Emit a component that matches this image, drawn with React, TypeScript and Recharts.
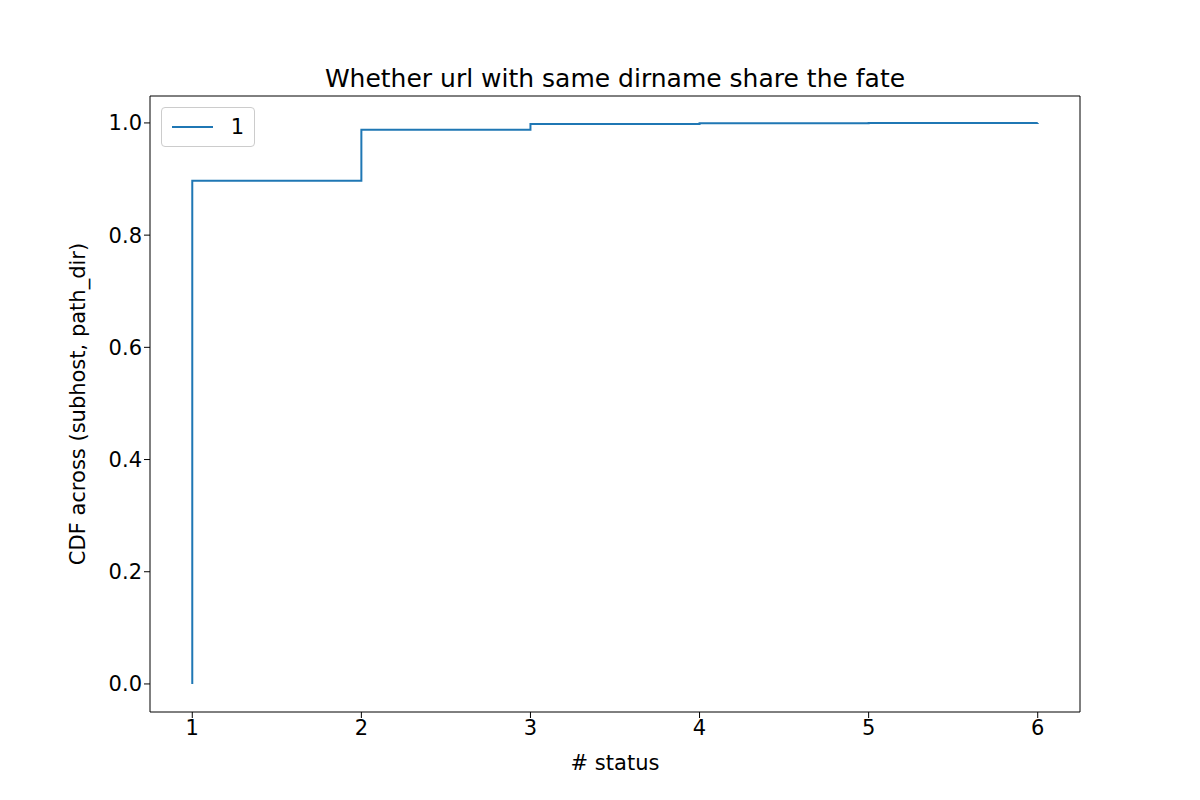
import { LineChart, Line, XAxis, YAxis, ReferenceLine } from "recharts";

const xs = [1, 1, 2, 3, 4, 5, 6];
const cdf = [0, 0.897, 0.988, 0.998, 0.9995, 0.9999, 1.0];
const xTicks = [1, 2, 3, 4, 5, 6];
const yTicks = [0, 0.2, 0.4, 0.6, 0.8, 1.0];
const seriesName = "1";

const data = xs.map((x, i) => ({ x, y: cdf[i] }));
const font = "DejaVu Sans, sans-serif";
const xDomain = [0.75, 6.25];
const yDomain = [-0.05, 1.048];

export default function App() {
  return (
    <div style={{ position: "absolute", left: 0, top: 0, width: 1200, height: 800, background: "white" }}>
      <div
        style={{
          position: "absolute",
          top: 64,
          width: 1230,
          textAlign: "center",
          fontFamily: font,
          fontSize: 25,
        }}
      >
        Whether url with same dirname share the fate
      </div>
      <div
        style={{
          position: "absolute",
          top: 107,
          left: 161,
          zIndex: 2,
          border: "1px solid #ccc",
          borderRadius: 4,
          background: "white",
          padding: "6px 10px",
          display: "flex",
          alignItems: "center",
          fontFamily: font,
          fontSize: 21,
          width: 94,
          height: 40,
          boxSizing: "border-box",
        }}
      >
        <svg width={46} height={10}>
          <line x1={0} y1={5} x2={44} y2={5} stroke="#1f77b4" strokeWidth={2} />
        </svg>
        <span style={{ marginLeft: 18 }}>{seriesName}</span>
      </div>
      <LineChart width={1200} height={800} data={data} margin={{ top: 96, right: 120, bottom: 48, left: 80 }}>
        <XAxis
          dataKey="x"
          type="number"
          domain={xDomain}
          ticks={xTicks}
          tick={{ fill: "#000", fontSize: 21, fontFamily: font }}
          tickLine={{ stroke: "#000" }}
          axisLine={{ stroke: "#000" }}
          tickSize={6}
          height={40}
          label={{ value: "# status", position: "insideBottom", offset: -18, fill: "#000", fontSize: 21, fontFamily: font }}
        />
        <YAxis
          type="number"
          domain={yDomain}
          ticks={yTicks}
          tickFormatter={(v: number) => v.toFixed(1)}
          tick={{ fill: "#000", fontSize: 21, fontFamily: font }}
          tickLine={{ stroke: "#000" }}
          axisLine={{ stroke: "#000" }}
          tickSize={6}
          width={70}
          label={{
            value: "CDF across (subhost, path_dir)",
            angle: -90,
            position: "insideLeft",
            offset: -2,
            style: { textAnchor: "middle" },
            fill: "#000",
            fontSize: 21,
            fontFamily: font,
          }}
        />
        <ReferenceLine y={yDomain[1]} stroke="#000" />
        <ReferenceLine x={xDomain[1]} stroke="#000" />
        <Line
          type="stepAfter"
          dataKey="y"
          stroke="#1f77b4"
          strokeWidth={2}
          dot={false}
          activeDot={false}
          isAnimationActive={false}
        />
      </LineChart>
    </div>
  );
}
